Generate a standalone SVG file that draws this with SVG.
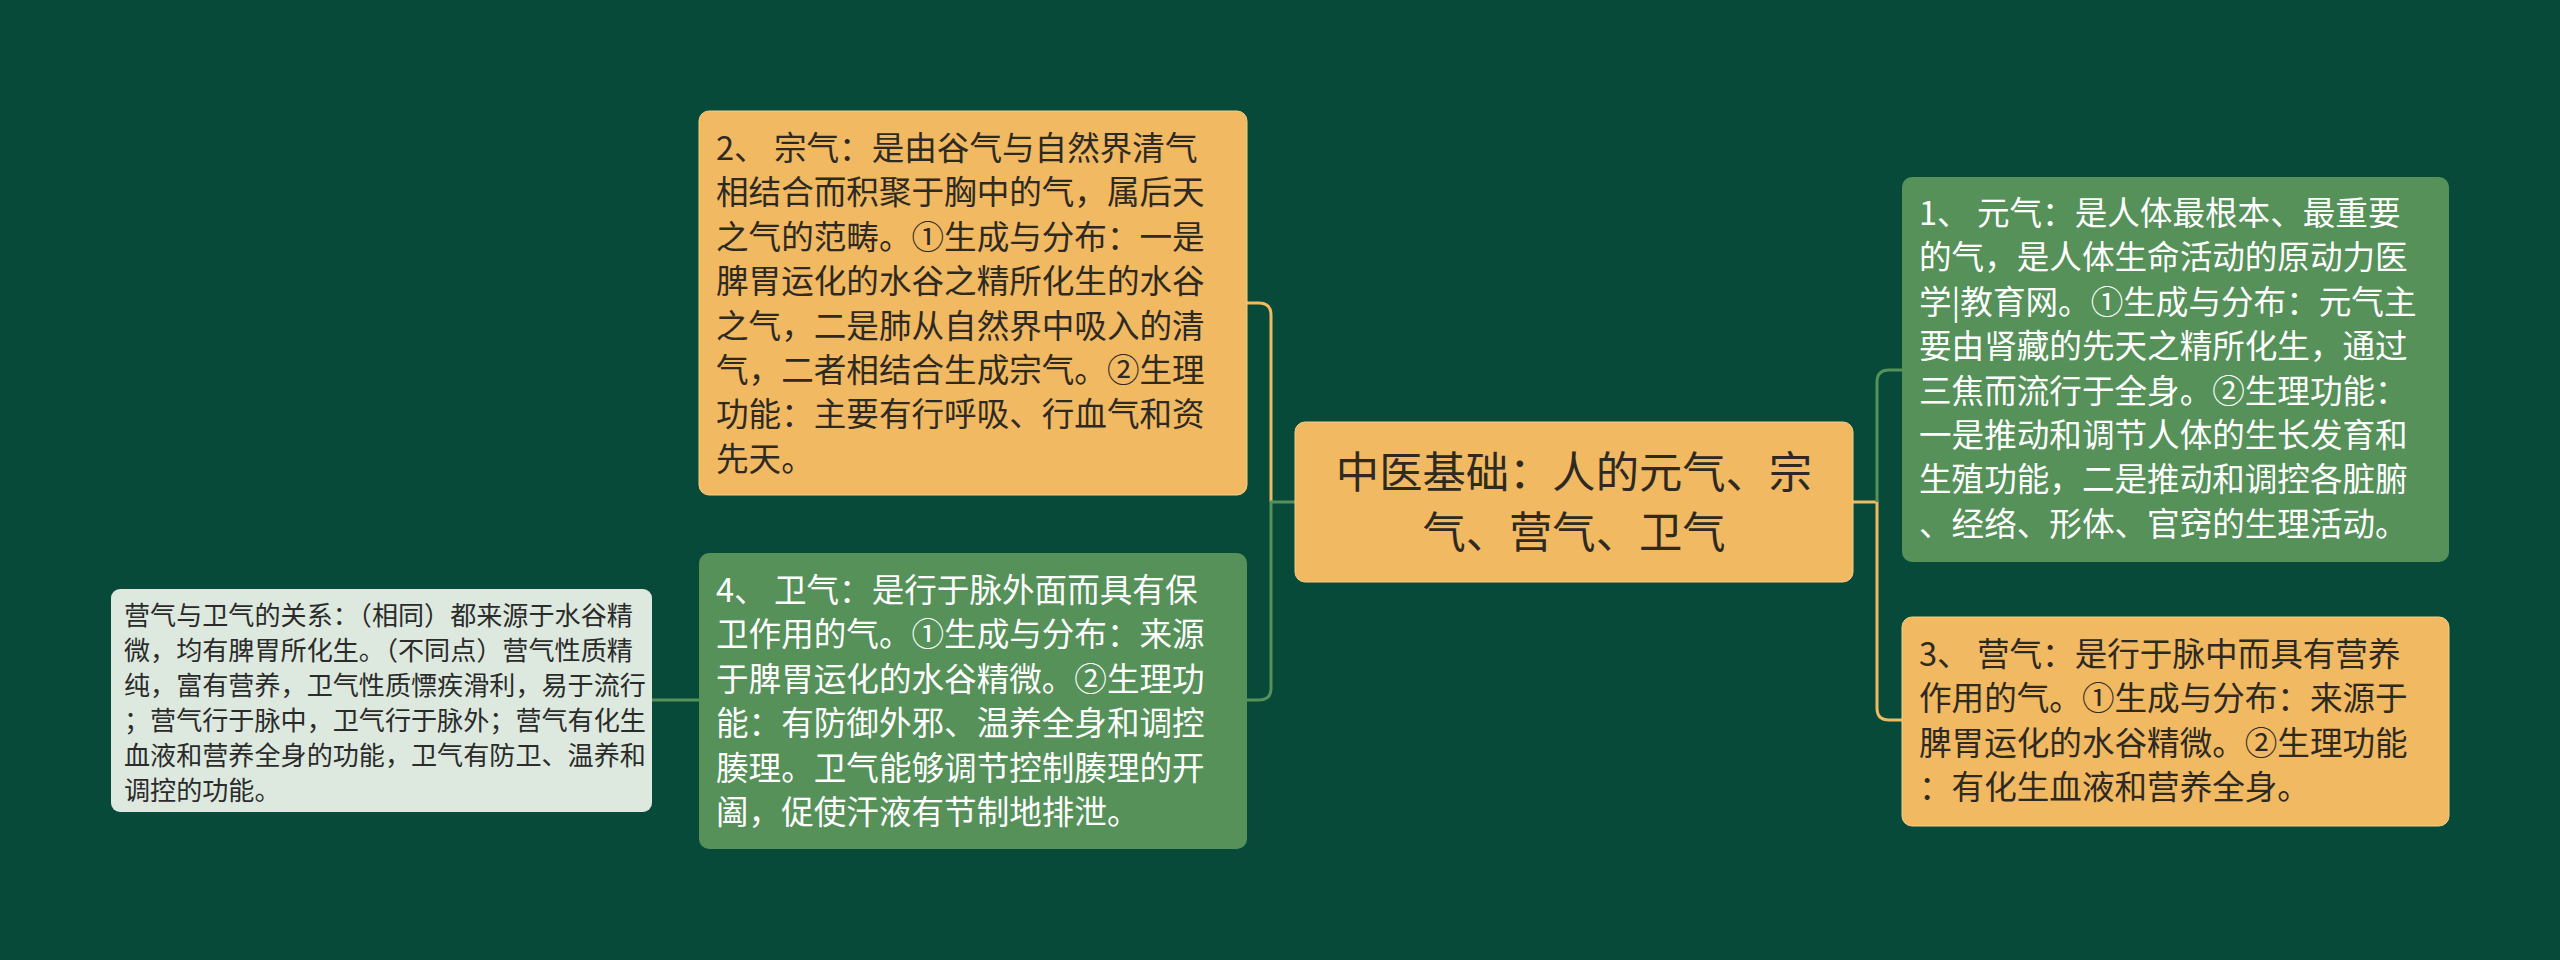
<svg xmlns="http://www.w3.org/2000/svg" width="2560" height="960" viewBox="0 0 2560 960">
<style>
.bg{fill:#074a39}
.or{fill:#f0b962;stroke:#f5cf85;stroke-width:1}
.gr{fill:#559159}
.lt{fill:#dde9df}
.t{font-family:"Noto Sans CJK SC","Noto Sans",sans-serif;font-size:32.6px}
.dk{fill:#2e2a22}
.wh{fill:#ffffff}
.sm{font-family:"Noto Sans CJK SC","Noto Sans",sans-serif;font-size:26.1px;fill:#2b2b2b}
.ct{font-family:"Noto Sans CJK SC","Noto Sans",sans-serif;font-size:43.3px;fill:#2e2a22}
.lo{fill:none;stroke:#f0b962;stroke-width:3}
.lg{fill:none;stroke:#559159;stroke-width:3}
</style>
<rect class="bg" x="0" y="0" width="2560" height="960"/>
<g id="connectors">
<path class="lo" d="M1247,303 H1259 Q1271,303 1271,315 V502"/>
<path class="lg" d="M1295,502 H1271 V688 Q1271,700 1259,700 H1247"/>
<path class="lg" d="M652,700 H699"/>
<path class="lo" d="M1853,502 H1877 V708 Q1877,720 1889,720 H1902"/>
<path class="lg" d="M1877,502 V382 Q1877,370 1889,370 H1902"/>
</g>
<g id="center">
<rect class="or" x="1295" y="422" width="558" height="160" rx="10"/>
<text class="ct" x="1574" y="488" text-anchor="middle">中医基础：人的元气、宗</text>
<text class="ct" x="1574" y="548" text-anchor="middle">气、营气、卫气</text>
</g>
<g id="node-zongqi">
<rect class="or" x="699" y="111" width="548" height="384" rx="10"/>
<g class="t dk">
<text x="716" y="160">2、 宗气：是由谷气与自然界清气</text>
<text x="716" y="204.4">相结合而积聚于胸中的气，属后天</text>
<text x="716" y="248.8">之气的范畴。①生成与分布：一是</text>
<text x="716" y="293.2">脾胃运化的水谷之精所化生的水谷</text>
<text x="716" y="337.6">之气，二是肺从自然界中吸入的清</text>
<text x="716" y="382">气，二者相结合生成宗气。②生理</text>
<text x="716" y="426.4">功能：主要有行呼吸、行血气和资</text>
<text x="716" y="470.8">先天。</text>
</g>
</g>
<g id="node-weiqi">
<rect class="gr" x="699" y="553" width="548" height="296" rx="10"/>
<g class="t wh">
<text x="716" y="602">4、 卫气：是行于脉外面而具有保</text>
<text x="716" y="646.4">卫作用的气。①生成与分布：来源</text>
<text x="716" y="690.8">于脾胃运化的水谷精微。②生理功</text>
<text x="716" y="735.2">能：有防御外邪、温养全身和调控</text>
<text x="716" y="779.6">腠理。卫气能够调节控制腠理的开</text>
<text x="716" y="824">阖，促使汗液有节制地排泄。</text>
</g>
</g>
<g id="node-relation">
<rect class="lt" x="111" y="589" width="541" height="223" rx="9"/>
<g class="sm">
<text x="124" y="625">营气与卫气的关系：（相同）都来源于水谷精</text>
<text x="124" y="660">微，均有脾胃所化生。（不同点）营气性质精</text>
<text x="124" y="695">纯，富有营养，卫气性质慓疾滑利，易于流行</text>
<text x="124" y="730">；营气行于脉中，卫气行于脉外；营气有化生</text>
<text x="124" y="765">血液和营养全身的功能，卫气有防卫、温养和</text>
<text x="124" y="800">调控的功能。</text>
</g>
</g>
<g id="node-yuanqi">
<rect class="gr" x="1902" y="177" width="547" height="385" rx="10"/>
<g class="t wh">
<text x="1919" y="225">1、 元气：是人体最根本、最重要</text>
<text x="1919" y="269.4">的气，是人体生命活动的原动力医</text>
<text x="1919" y="313.8">学|教育网。①生成与分布：元气主</text>
<text x="1919" y="358.2">要由肾藏的先天之精所化生，通过</text>
<text x="1919" y="402.6">三焦而流行于全身。②生理功能：</text>
<text x="1919" y="447">一是推动和调节人体的生长发育和</text>
<text x="1919" y="491.4">生殖功能，二是推动和调控各脏腑</text>
<text x="1919" y="535.8">、经络、形体、官窍的生理活动。</text>
</g>
</g>
<g id="node-yingqi">
<rect class="or" x="1902" y="617" width="547" height="209" rx="10"/>
<g class="t dk">
<text x="1919" y="666">3、 营气：是行于脉中而具有营养</text>
<text x="1919" y="710.4">作用的气。①生成与分布：来源于</text>
<text x="1919" y="754.8">脾胃运化的水谷精微。②生理功能</text>
<text x="1919" y="799.2">：有化生血液和营养全身。</text>
</g>
</g>
</svg>
